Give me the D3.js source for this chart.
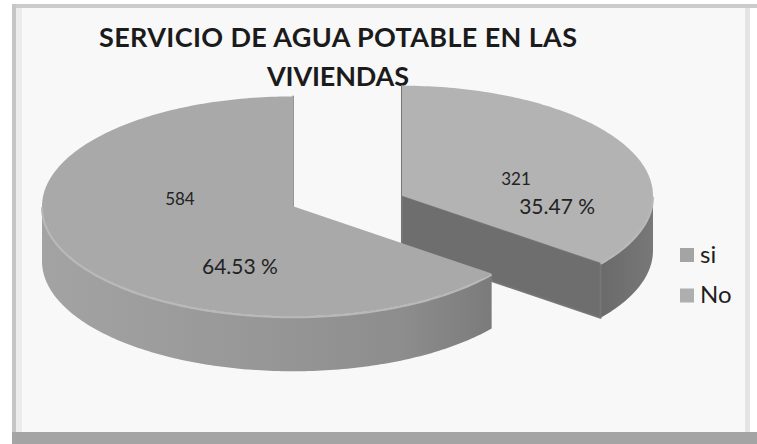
<!DOCTYPE html>
<html>
<head>
<meta charset="utf-8">
<script src="https://cdn.jsdelivr.net/npm/d3@7"></script>
<style>
  html, body { margin: 0; padding: 0; background: #ffffff; }
  svg { display: block; font-family: Lato, "Open Sans", "Noto Sans", sans-serif; }
</style>
</head>
<body>
<svg id="chart" width="757" height="444"></svg>
<script>
// ---- data ----
const categories = ["si", "No"];
const counts = [584, 321];
const percentLabels = ["64.53 %", "35.47 %"];
const titleLines = ["SERVICIO DE AGUA POTABLE EN LAS", "VIVIENDAS"];

// ---- layout ----
const W = 757, H = 444;
const center = [347.5, 201];     // pie centre before exploding
const R = 251;                   // horizontal radius
const tilt = 0.438;              // vertical squash of the disc
const depth = 55;                // thickness of the disc
const explode = 60.7;            // distance each slice is pulled out
const explodeTilt = 0.2;

// label placement inside each slice: [angle in degrees, fraction of radius]
const labelPlacement = {
  si: { value: [278.1, 0.455], pct: [201.2, 0.585] },
  No: { value: [71.1, 0.48],  pct: [99.2, 0.626] }
};

const topColor = d3.scaleOrdinal().domain(categories).range(["#a9a9a9", "#b3b3b3"]);
const wallColor = d3.scaleOrdinal().domain(categories).range(["#8c8c8c", "#6e6e6e"]);

const svg = d3.select("#chart");
const defs = svg.append("defs");

// ---- frame ----
svg.append("rect").attr("x", 0).attr("y", 0).attr("width", W).attr("height", H).attr("fill", "#ffffff");
svg.append("rect").attr("x", 12).attr("y", 4).attr("width", 736).attr("height", 430).attr("fill", "#f9f8f8");
svg.append("rect").attr("x", 12).attr("y", 4).attr("width", 745).attr("height", 4).attr("fill", "#cbcbcb");
svg.append("rect").attr("x", 12).attr("y", 4).attr("width", 4).attr("height", 440).attr("fill", "#c6c6c6");
svg.append("rect").attr("x", 16).attr("y", 8).attr("width", 6).attr("height", 424).attr("fill", "#ececec");
svg.append("rect").attr("x", 745).attr("y", 8).attr("width", 5).attr("height", 424).attr("fill", "#e4e4e4");
svg.append("rect").attr("x", 12).attr("y", 432).attr("width", 745).attr("height", 12).attr("fill", "#a4a4a4");

// ---- title ----
const title = svg.append("g").attr("font-weight", 700).attr("fill", "#1b1b1b").attr("font-size", 27);
const titleWidths = [478, 142];
title.selectAll("text").data(titleLines).join("text")
  .attr("x", 338)
  .attr("y", (d, i) => 47 + i * 39)
  .attr("text-anchor", "middle")
  .attr("textLength", (d, i) => titleWidths[i])
  .attr("lengthAdjust", "spacing")
  .text(d => d);

// ---- pie geometry ----
const rows = categories.map((c, i) => ({ cat: c, value: counts[i], pct: percentLabels[i] }));
// "No" starts at 12 o'clock and runs clockwise, "si" takes the rest
const pie = d3.pie().sort(null).value(d => d.value);
const slices = pie(rows.slice().reverse());

function pt(c, a, r) {
  return [c[0] + r * R * Math.sin(a), c[1] - r * R * tilt * Math.cos(a)];
}
function arcPts(c, a0, a1, dy) {
  const n = Math.max(2, Math.ceil(Math.abs(a1 - a0) / (Math.PI / 180)));
  return d3.range(n + 1).map(i => {
    const p = pt(c, a0 + (a1 - a0) * i / n, 1);
    return [p[0], p[1] + (dy || 0)];
  });
}
const line = d3.line();

slices.forEach(s => {
  s.mid = (s.startAngle + s.endAngle) / 2;
  s.c = [center[0] + explode * Math.sin(s.mid), center[1] - explode * Math.cos(s.mid) * explodeTilt];
});

// back slices first
const order = slices.slice().sort((a, b) => a.c[1] - b.c[1]);

const pieG = svg.append("g");
order.forEach(s => {
  const g = pieG.append("g").attr("class", "slice-" + s.data.cat);
  const c = s.c;

  // outer rim, only the half facing the viewer
  const r0 = Math.max(s.startAngle, Math.PI / 2);
  const r1 = Math.min(s.endAngle, 3 * Math.PI / 2);
  if (r1 > r0) {
    const topArc = arcPts(c, r0, r1, 0);
    const botArc = arcPts(c, r1, r0, depth);
    const xs = topArc.map(p => p[0]);
    const gid = "rim-" + s.data.cat;
    const grad = defs.append("linearGradient").attr("id", gid)
      .attr("gradientUnits", "userSpaceOnUse")
      .attr("x1", d3.min(xs)).attr("x2", d3.max(xs)).attr("y1", 0).attr("y2", 0);
    const base = d3.color(wallColor(s.data.cat));
    const stops = s.data.cat === "si"
      ? [[0, "#a3a3a3"], [0.45, "#989898"], [0.8, "#8d8d8d"], [1, "#7b7b7b"]]
      : [[0, base.darker(0.1).formatHex()], [1, base.brighter(0.25).formatHex()]];
    grad.selectAll("stop").data(stops).join("stop")
      .attr("offset", d => d[0]).attr("stop-color", d => d[1]);
    g.append("path")
      .attr("d", line(topArc.concat(botArc)) + "Z")
      .attr("fill", `url(#${gid})`);
  }

  // cut faces along the radii that face the viewer
  [[s.startAngle, s.startAngle - Math.PI / 2], [s.endAngle, s.endAngle + Math.PI / 2]].forEach(([a, normal]) => {
    if (Math.cos(normal) < 0.01) {
      const p = pt(c, a, 1);
      const poly = [c, p, [p[0], p[1] + depth], [c[0], c[1] + depth]];
      g.append("path")
        .attr("d", line(poly) + "Z")
        .attr("fill", wallColor(s.data.cat))
        .attr("stroke", d3.color(wallColor(s.data.cat)).brighter(0.2))
        .attr("stroke-width", 2)
        .attr("stroke-linejoin", "round");
    }
  });

  // top face
  const face = [c].concat(arcPts(c, s.startAngle, s.endAngle, 0));
  g.append("path")
    .attr("d", line(face) + "Z")
    .attr("fill", topColor(s.data.cat));

  // soft bevel along the front edge of the top face
  if (r1 > r0) {
    g.append("path")
      .attr("d", line(arcPts(c, r0, r1, 1)))
      .attr("fill", "none")
      .attr("stroke", "#b9b9b9")
      .attr("stroke-width", 2);
  }

  // labels
  const place = labelPlacement[s.data.cat];
  const vp = pt(c, place.value[0] * Math.PI / 180, place.value[1]);
  const pp = pt(c, place.pct[0] * Math.PI / 180, place.pct[1]);
  g.append("text")
    .attr("x", vp[0]).attr("y", vp[1]).attr("dy", "0.36em")
    .attr("text-anchor", "middle").attr("font-size", 17).attr("fill", "#222")
    .text(d3.format("d")(s.data.value));
  g.append("text")
    .attr("x", pp[0]).attr("y", pp[1]).attr("dy", "0.36em")
    .attr("text-anchor", "middle").attr("font-size", 21).attr("fill", "#222")
    .text(s.data.pct);
});

// ---- legend ----
const legend = svg.append("g").attr("transform", "translate(680,248)");
const item = legend.selectAll("g").data(categories).join("g")
  .attr("transform", (d, i) => `translate(0,${i * 40.5})`);
item.append("rect")
  .attr("width", 14).attr("height", 14)
  .attr("fill", d => d3.color(topColor(d)).darker(0.08));
item.append("text")
  .attr("x", 20).attr("y", 14.5)
  .attr("font-size", 24).attr("fill", "#1e1e1e")
  .text(d => d);
</script>
</body>
</html>
